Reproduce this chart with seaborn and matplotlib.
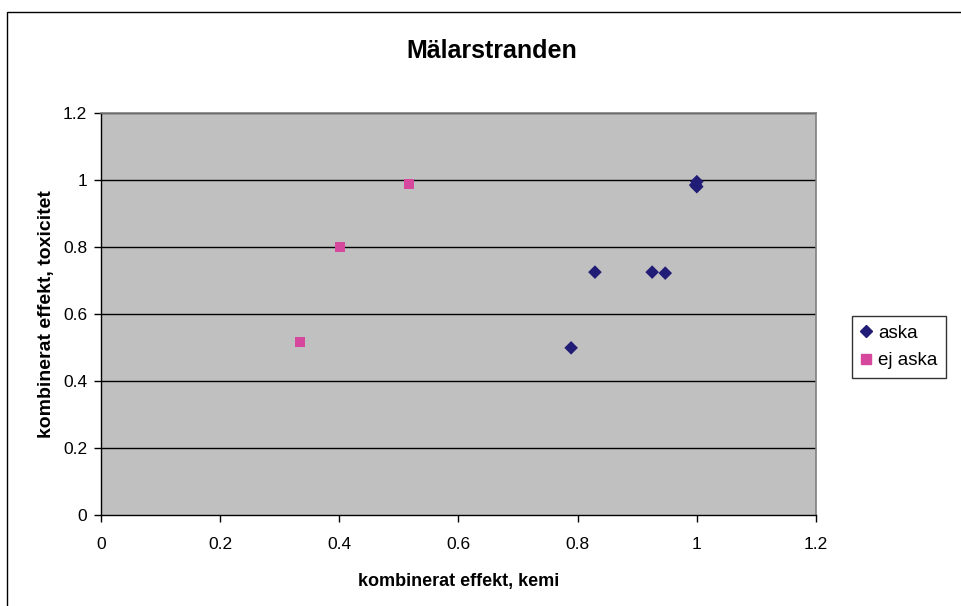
import matplotlib
matplotlib.use("Agg")
import matplotlib.pyplot as plt
import seaborn as sns
import pandas as pd
from matplotlib.patches import Rectangle
from matplotlib.lines import Line2D

sns.set_style("white")
plt.rcParams['font.family'] = ['Liberation Sans', 'DejaVu Sans']
plt.rcParams['text.color'] = 'black'
plt.rcParams['axes.labelcolor'] = 'black'
plt.rcParams['xtick.color'] = 'black'
plt.rcParams['ytick.color'] = 'black'

aska_x = [1.0, 0.998, 1.0, 0.829, 0.925, 0.947, 0.789]
aska_y = [0.995, 0.985, 0.98, 0.725, 0.725, 0.722, 0.499]
ej_x = [0.517, 0.401, 0.334]
ej_y = [0.988, 0.800, 0.516]
series = ["aska", "ej aska"]
colors = ["#211c75", "#d6489e"]
ticks = [0, 0.2, 0.4, 0.6, 0.8, 1, 1.2]
tick_labels = ["0", "0.2", "0.4", "0.6", "0.8", "1", "1.2"]

df = pd.DataFrame({
    "x": aska_x + ej_x,
    "y": aska_y + ej_y,
    "serie": [series[0]] * len(aska_x) + [series[1]] * len(ej_x),
})

fig = plt.figure(figsize=(9.61, 6.06), dpi=100)
ax = fig.add_axes([101/961, 1-515/606, (816-101)/961, (515-113)/606])
ax.set_facecolor("#c0c0c0")

for v in ticks[1:]:
    ax.axhline(v, color="#000000", lw=1.0, zorder=1)

sns.scatterplot(data=df, x="x", y="y", hue="serie", style="serie",
                markers={series[0]: "D", series[1]: "s"},
                palette=dict(zip(series, colors)), s=48, linewidth=0,
                ax=ax, zorder=3, legend=False)

ax.set_xlim(0, 1.2)
ax.set_ylim(0, 1.2)
ax.set_xticks(ticks)
ax.set_xticklabels(tick_labels)
ax.set_yticks(ticks)
ax.set_yticklabels(tick_labels)
ax.tick_params(axis="both", direction="out", length=5, width=1, color="black",
               labelsize=12.5, bottom=True, left=True)
ax.tick_params(axis="x", pad=11)
ax.tick_params(axis="y", pad=5)
for s in ["top", "right"]:
    ax.spines[s].set_color("#808080")
    ax.spines[s].set_linewidth(1.2)
for s in ["left", "bottom"]:
    ax.spines[s].set_color("black")
    ax.spines[s].set_linewidth(1.0)

ax.set_xlabel("kombinerat effekt, kemi", fontsize=13, fontweight="bold", labelpad=15)
ax.set_ylabel("kombinerat effekt, toxicitet", fontsize=14, fontweight="bold", labelpad=6)

fig.text(492/961, 1-51/606, "Mälarstranden", ha="center", va="center",
         fontsize=18, fontweight="bold")

handles = [Line2D([], [], marker="D", color=colors[0], ls="", markersize=6),
           Line2D([], [], marker="s", color=colors[1], ls="", markersize=6.5)]
leg = fig.legend(handles, series, loc="center left",
                 bbox_to_anchor=(852/961, 1-347/606), fontsize=13.5,
                 frameon=True, fancybox=False, edgecolor="black",
                 handlelength=0.6, handletextpad=0.35, borderpad=0.45,
                 labelspacing=0.55, borderaxespad=0)
leg.get_frame().set_linewidth(1.0)

fig.patches.append(Rectangle((7/961, -0.1), 1.2, 1 - 12/606 + 0.1,
                             transform=fig.transFigure, fill=False,
                             edgecolor="black", lw=1.0))

fig.savefig("out.png", dpi=100)
